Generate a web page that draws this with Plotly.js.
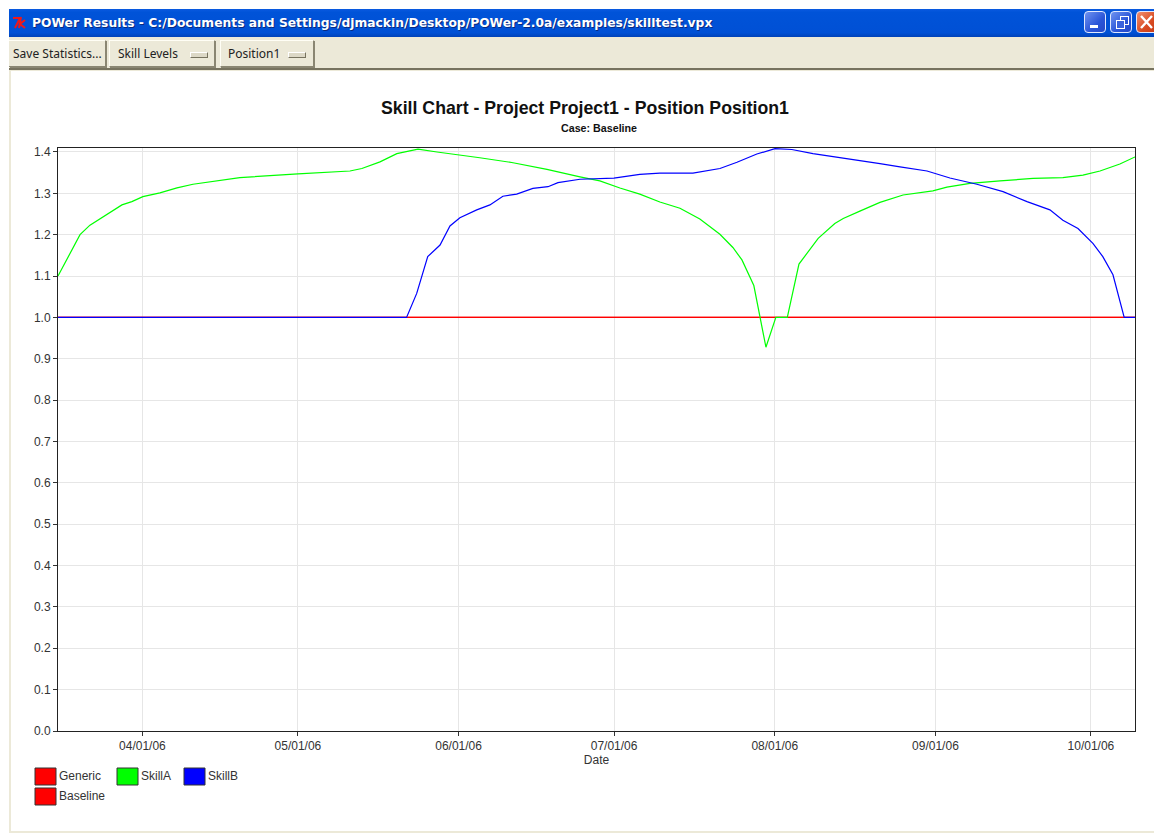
<!DOCTYPE html>
<html>
<head>
<meta charset="utf-8">
<script src="https://cdn.plot.ly/plotly-3.0.1.min.js"></script>
<style>
html,body{margin:0;padding:0;background:#fff;width:1154px;height:833px;overflow:hidden}
#win{position:absolute;left:9px;top:9px;width:1145px;height:824px;background:#ece9d8}
#bar{position:absolute;left:0;top:0;width:100%;height:28px;background:linear-gradient(#0a5ae0 0,#0053d8 12%,#0050d5 85%,#0042b8 100%);color:#fff;font:bold 12.3px "DejaVu Sans",sans-serif;line-height:29px;white-space:nowrap}
#bar span{position:absolute;left:23px;top:0;text-shadow:1px 1px 0 #0a2a80}
#icon{position:absolute;left:2px;top:7px}
.wb{position:absolute;top:2px;width:22px;height:22px;border:1px solid #dfe8ff;border-radius:4px;background:linear-gradient(135deg,#6f93f0,#2a55d8 60%,#2448c8);box-sizing:border-box}
#tool{position:absolute;left:0;top:28px;width:100%;height:33px;border-bottom:2px solid #77735f;box-sizing:border-box}
.btn{position:absolute;top:3px;height:27px;box-sizing:border-box;background:#ece9d8;border:1px solid;border-color:#fffef5 #8a8672 #8a8672 #fffef5;box-shadow:1px 1px 0 #8a8672;font:12px "Noto Sans",sans-serif;color:#222;line-height:26px;padding-left:4px;white-space:nowrap}
.ind{position:absolute;top:11px;width:16px;height:4px;background:#dcd8c6;border:1px solid;border-color:#fff #77735f #77735f #fff}
#body{position:absolute;left:2px;top:62px;right:0;height:760px;background:#fff}
#chart{position:absolute;left:0;top:0;width:1154px;height:833px}
</style>
</head>
<body>
<div id="win">
  <div id="bar">
    <svg id="icon" width="18" height="14"><path d="M2 2H9L4 12M10 1L8 12M14 4L9 8L14 12" fill="none" stroke="#f01818" stroke-width="2"/></svg>
    <span>POWer Results - C:/Documents and Settings/djmackin/Desktop/POWer-2.0a/examples/skilltest.vpx</span>
    <div class="wb" style="left:1075px"><div style="position:absolute;left:5px;top:13px;width:8px;height:3px;background:#fff"></div></div>
    <div class="wb" style="left:1101px"><div style="position:absolute;left:9px;top:4px;width:7px;height:7px;border:1px solid #fff"></div><div style="position:absolute;left:5px;top:8px;width:7px;height:7px;border:1px solid #fff;background:#3a62dc"></div></div>
    <div class="wb" style="left:1127px;background:linear-gradient(135deg,#f09070,#d84a20 60%,#c83c18)"><svg width="20" height="20"><path d="M4 4L15 16M15 4L4 16" stroke="#fff" stroke-width="2.4"/></svg></div>
  </div>
  <div id="tool">
    <div class="btn" style="left:0;width:97px;border-left:0;padding-left:4px">Save Statistics...</div>
    <div class="btn" style="left:100px;width:106px;padding-left:8px">Skill Levels<div class="ind" style="left:80px"></div></div>
    <div class="btn" style="left:211px;width:94px;padding-left:7px">Position1<div class="ind" style="left:67px"></div></div>
  </div>
  <div id="body"></div>
</div>
<div id="chart"></div>
<script>
const chartTitle = 'Skill Chart - Project Project1 - Position Position1';
const chartSubtitle = 'Case: Baseline';
const xTitle = 'Date';

const skillADates = ['2006-03-15 17:00','2006-03-19 23:00','2006-03-21 21:00','2006-03-24 09:00','2006-03-28 01:00','2006-03-29 23:00','2006-04-01 02:00','2006-04-04 09:00','2006-04-07 16:00','2006-04-10 18:00','2006-04-15 09:00','2006-04-19 19:00','2006-05-01 00:00','2006-05-11 01:00','2006-05-13 08:00','2006-05-16 20:00','2006-05-20 02:00','2006-05-24 04:00','2006-05-27 20:00','2006-06-01 06:00','2006-06-05 02:00','2006-06-11 12:00','2006-06-18 01:00','2006-06-24 10:00','2006-06-28 06:00','2006-07-02 03:00','2006-07-05 23:00','2006-07-09 20:00','2006-07-13 17:00','2006-07-17 13:00','2006-07-21 10:00','2006-07-23 22:00','2006-07-25 16:00','2006-07-27 23:00','2006-07-29 03:00','2006-07-30 07:00','2006-08-01 05:00','2006-08-03 10:00','2006-08-05 16:00','2006-08-09 09:00','2006-08-12 14:00','2006-08-14 05:00','2006-08-17 10:00','2006-08-21 07:00','2006-08-25 18:00','2006-08-31 12:00','2006-09-03 05:00','2006-09-07 16:00','2006-09-13 11:00','2006-09-19 20:00','2006-09-25 14:00','2006-09-29 11:00','2006-10-02 18:00','2006-10-06 14:00','2006-10-09 12:00'];
const skillAValues = [1.10,1.20,1.223,1.243,1.272,1.28,1.292,1.301,1.313,1.322,1.33,1.338,1.347,1.354,1.36,1.376,1.396,1.407,1.40,1.393,1.386,1.374,1.358,1.34,1.33,1.313,1.298,1.279,1.264,1.238,1.201,1.169,1.139,1.077,1.0,0.928,1.0,1.0,1.129,1.191,1.227,1.239,1.257,1.278,1.296,1.306,1.315,1.324,1.33,1.336,1.338,1.344,1.354,1.371,1.388];

const skillBDates = ['2006-03-15 17:00','2006-05-21 23:00','2006-05-23 22:00','2006-05-26 01:00','2006-05-28 10:00','2006-05-30 08:00','2006-06-01 06:00','2006-06-04 12:00','2006-06-07 01:00','2006-06-09 13:00','2006-06-12 05:00','2006-06-15 08:00','2006-06-18 06:00','2006-06-20 04:00','2006-06-24 10:00','2006-06-30 23:00','2006-07-05 23:00','2006-07-09 20:00','2006-07-16 05:00','2006-07-18 22:00','2006-07-21 10:00','2006-07-24 17:00','2006-07-28 13:00','2006-08-01 01:00','2006-08-04 07:00','2006-08-08 09:00','2006-08-14 22:00','2006-08-18 19:00','2006-08-21 07:00','2006-08-25 04:00','2006-08-30 09:00','2006-09-03 19:00','2006-09-09 00:00','2006-09-14 01:00','2006-09-18 16:00','2006-09-23 02:00','2006-09-25 14:00','2006-09-28 12:00','2006-10-01 09:00','2006-10-03 07:00','2006-10-05 06:00','2006-10-07 10:00','2006-10-09 12:00'];
const skillBValues = [1.0,1.0,1.058,1.147,1.175,1.221,1.241,1.26,1.272,1.293,1.298,1.312,1.316,1.326,1.334,1.337,1.346,1.349,1.349,1.354,1.36,1.375,1.395,1.408,1.406,1.396,1.384,1.378,1.372,1.364,1.354,1.337,1.322,1.304,1.28,1.26,1.235,1.215,1.179,1.147,1.103,1.0,1.0];

const flatDates = ['2006-03-15 17:00','2006-10-09 12:00'];
const genericValues = [1.0,1.0];
const baselineValues = [1.0,1.0];

const legendNames = ['Generic','SkillA','SkillB','Baseline'];
const legendColors = ['#ff0000','#00ff00','#0000ff','#ff0000'];

// layout helpers: page pixels to paper fractions
const L=58,R=1135,T=148,B=731;
const px=x=>(x-L)/(R-L), py=y=>(B-y)/(B-T);
const legendSlots=[[35,768,59],[117,768,141],[184,768,208],[35,788,59]];

const fontFam='"Liberation Sans",Arial,sans-serif';
const shapes=legendNames.map((n,i)=>({type:'rect',xref:'paper',yref:'paper',layer:'above',
  x0:px(legendSlots[i][0]),x1:px(legendSlots[i][0]+21),y0:py(legendSlots[i][1]),y1:py(legendSlots[i][1]+17),
  fillcolor:legendColors[i],line:{color:'#333',width:1}}));
const annotations=legendNames.map((n,i)=>({xref:'paper',yref:'paper',x:px(legendSlots[i][2]),y:py(legendSlots[i][1]+8),
  text:n,showarrow:false,xanchor:'left',yanchor:'middle',xshift:-2,font:{family:fontFam,size:12,color:'#333'}}));
annotations.push({xref:'paper',yref:'paper',x:px(599),y:py(128),text:'<b>'+chartSubtitle+'</b>',showarrow:false,
  xanchor:'center',yanchor:'middle',font:{family:fontFam,size:10.7,color:'#111'}});

const lineTrace=(name,x,y,color)=>({type:'scatter',mode:'lines',name,x,y,line:{color,width:1.2,shape:'linear'},hoverinfo:'skip'});
const traces=[
  lineTrace('Baseline',flatDates,baselineValues,legendColors[3]),
  lineTrace('Generic',flatDates,genericValues,legendColors[0]),
  lineTrace('SkillA',skillADates,skillAValues,legendColors[1]),
  lineTrace('SkillB',skillBDates,skillBValues,legendColors[2])
];
const axisCommon={showline:true,linecolor:'#222',linewidth:1,mirror:true,showgrid:true,gridcolor:'#e6e6e6',gridwidth:1,
  ticks:'outside',ticklen:4,tickcolor:'#333',tickwidth:1,zeroline:false,tickfont:{family:fontFam,size:12,color:'#333'}};
const layout={
  width:1154,height:833,showlegend:false,
  margin:{l:L,r:1154-R,t:T,b:833-B,pad:0},
  paper_bgcolor:'rgba(0,0,0,0)',plot_bgcolor:'rgba(0,0,0,0)',
  title:{text:'<b>'+chartTitle+'</b>',x:585/1154,xref:'container',xanchor:'center',y:1-108/833,yref:'container',yanchor:'middle',font:{family:fontFam,size:17.7,color:'#111'}},
  xaxis:Object.assign({},axisCommon,{type:'date',range:['2006-03-15 17:00','2006-10-09 12:00'],tick0:'2006-04-01',dtick:'M1',tickformat:'%m/%d/%y',
    title:{text:xTitle,standoff:3,font:{family:fontFam,size:12,color:'#333'}}}),
  yaxis:Object.assign({},axisCommon,{range:[0,1.4096],tick0:0,dtick:0.1,tickformat:'.1f'}),
  shapes,annotations
};
Plotly.newPlot('chart',traces,layout,{displayModeBar:false,staticPlot:true});
</script>
</body>
</html>
